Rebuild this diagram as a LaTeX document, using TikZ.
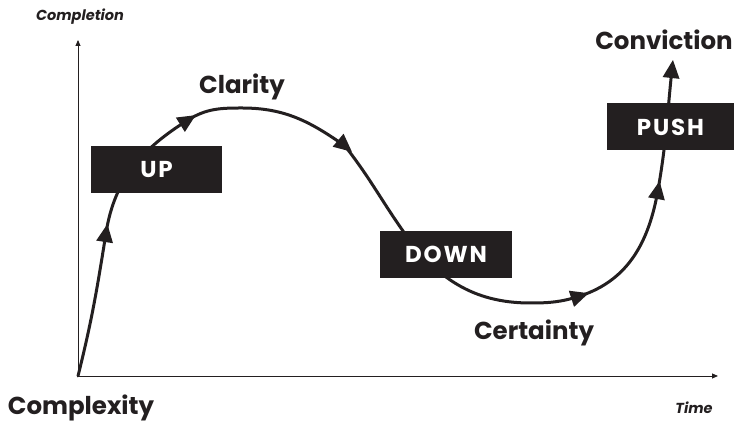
\documentclass[tikz,border=0pt]{standalone}
\usepackage{fontspec}
\setmainfont{Poppins}
\usetikzlibrary{arrows.meta}
\definecolor{ink}{HTML}{231F20}
\begin{document}
\begin{tikzpicture}[x=1pt,y=1pt,
  axis/.style={draw=ink, line width=0.9pt, -{Triangle[length=6pt,width=5pt]}},
  curve/.style={draw=ink, line width=3pt, line cap=round},
  stagebox/.style={fill=ink, text=white, minimum height=47pt, inner sep=0pt,
    font=\fontsize{23}{26}\selectfont\bfseries\addfontfeature{LetterSpace=8}},
  stagelabel/.style={text=ink, inner sep=0pt, font=\fontsize{24.5}{28}\selectfont\bfseries},
  axislabel/.style={text=ink, inner sep=0pt, font=\fontsize{14.5}{17}\selectfont\bfseries\itshape},
  midarrow/.style={fill=ink}]
\useasboundingbox (0,0) rectangle (734,422);

% axes
\coordinate (O) at (78,46);
\coordinate (ytop) at (78,382);
\coordinate (xend) at (718,46);
\draw[axis] (O) -- (ytop);
\draw[axis] (O) -- (xend);

% axis labels
\node[axislabel] (completion) at (80,405) {Completion};
\node[axislabel] (time) at (694,14) {Time};
\node[stagelabel] (complexity) at (81,14) {Complexity};

% points along the curve
\coordinate (a1) at (106,189);
\coordinate (a2) at (188,302);
\coordinate (pk) at (242,314);
\coordinate (a3) at (345,276);
\coordinate (inf) at (403,191);
\coordinate (mn) at (530,119);
\coordinate (a4) at (580,126);
\coordinate (a5) at (658,232);
\coordinate (end) at (672,353);

% the curve
\draw[curve] (O) to[out=76,in=261] (a1) to[out=81,in=212] (a2)
  to[out=32,in=180] (pk) to[out=0,in=145] (a3) to[out=-52,in=125] (inf)
  to[out=-55,in=180] (mn) to[out=0,in=198] (a4) to[out=18,in=260] (a5)
  to[out=80,in=264] (end);

% arrowheads on the curve
\foreach \p/\a in {a1/81, a2/32, a3/-40, a4/18, a5/80, end/84}{
  \begin{scope}[shift={(\p)}, rotate=\a]
    \fill[midarrow] (9,0) -- (-9,8.5) -- (-9,-8.5) -- cycle;
  \end{scope}
}

% stage boxes
\node[stagebox, minimum width=131pt] (up) at (156.5,252) {UP};
\node[stagebox, minimum width=132pt] (down) at (446,167.5) {DOWN};
\node[stagebox, minimum width=127pt] (push) at (670.5,295) {PUSH};

% stage labels
\node[stagelabel] (clarity) at (242,335) {Clarity};
\node[stagelabel] (certainty) at (534,89) {Certainty};
\node[stagelabel] (conviction) at (664,382) {Conviction};
\end{tikzpicture}
\end{document}
